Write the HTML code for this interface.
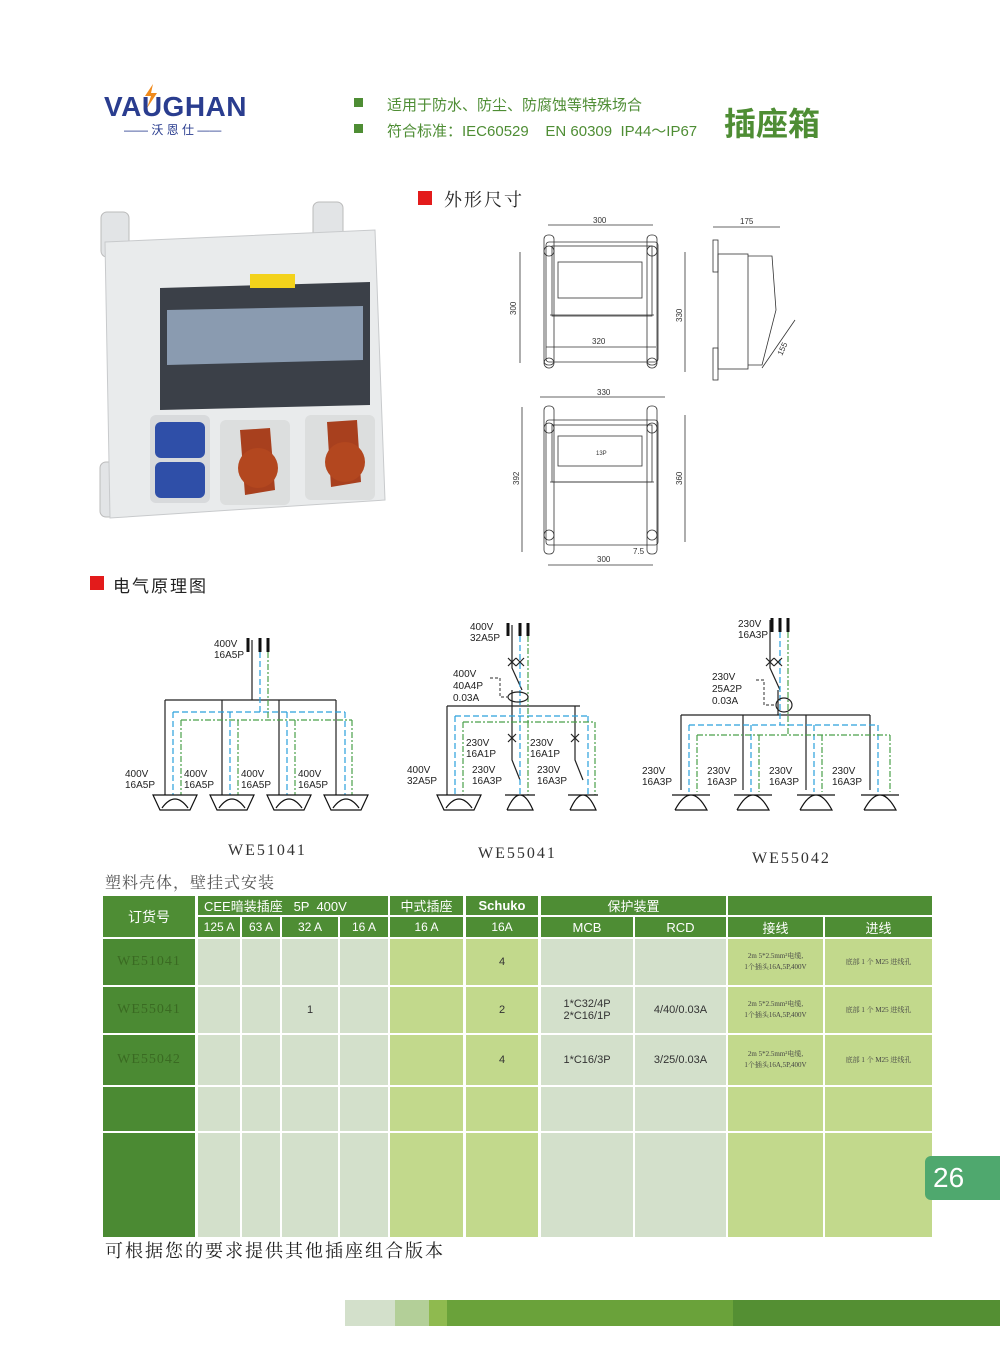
<!DOCTYPE html>
<html><head><meta charset="utf-8">
<style>
body{margin:0;background:#fff;}
#pg{position:relative;width:1000px;height:1363px;overflow:hidden;background:#fff;font-family:"Liberation Sans","Noto Sans CJK SC",sans-serif;}
.a{position:absolute;}
.c{position:absolute;display:flex;align-items:center;justify-content:center;text-align:center;box-sizing:border-box;}
.h{background:#4e8d34;color:#fff;font-size:13px;}
.g{background:#d3e0cb;}
.l{background:#c2d98c;}
.d{background:#4b8a33;color:#3a6a22;font-family:"Liberation Serif",serif;font-size:14px;letter-spacing:1px;}
.t{font-size:11px;color:#333;}
.s{font-size:7px;color:#444;line-height:11px;font-family:"Liberation Serif","Noto Serif CJK SC",serif;}
</style></head><body><div id="pg">

<!-- logo -->
<div class="a" style="left:104px;top:91px;font-size:28px;font-weight:bold;color:#2a3d8f;letter-spacing:0.5px;">VAUGHAN</div>
<svg class="a" style="left:141px;top:84px" width="20" height="24"><path d="M12 0 L4 12 L10 12 L6 24 L16 9 L10 9 Z" fill="#f08a1c"/></svg>
<div class="a" style="left:124px;top:121px;font-size:12px;color:#2a3d8f;">—— 沃 恩 仕 ——</div>

<div class="a" style="left:354px;top:98px;width:9px;height:9px;background:#4e8d34"></div>
<div class="a" style="left:354px;top:124px;width:9px;height:9px;background:#4e8d34"></div>
<div class="a" style="left:387px;top:94px;font-size:15px;color:#4e8d34;">适用于防水、防尘、防腐蚀等特殊场合</div>
<div class="a" style="left:387px;top:120px;font-size:15px;color:#4e8d34;white-space:pre">符合标准：IEC60529    EN 60309  IP44～IP67</div>
<div class="a" style="left:724px;top:99px;font-size:32px;font-weight:bold;color:#4e8d34;">插座箱</div>

<div class="a" style="left:418px;top:191px;width:14px;height:14px;background:#e31b1b"></div>
<div class="a" style="left:444px;top:186px;font-size:18px;color:#222;font-family:'Liberation Serif','Noto Serif CJK SC',serif;letter-spacing:2px;">外形尺寸</div>
<div class="a" style="left:90px;top:576px;width:14px;height:14px;background:#e31b1b"></div>
<div class="a" style="left:113px;top:572px;font-size:17px;color:#222;letter-spacing:2px;">电气原理图</div>

<!-- product photo -->
<svg class="a" style="left:95px;top:200px" width="300" height="325">
 <rect x="6" y="12" width="28" height="45" rx="6" fill="#e2e4e6" stroke="#bbb"/>
 <rect x="218" y="2" width="30" height="45" rx="6" fill="#e2e4e6" stroke="#bbb"/>
 <rect x="5" y="262" width="28" height="55" rx="6" fill="#e2e4e6" stroke="#bbb"/>
 <path d="M10 42 L280 30 L290 300 L15 318 Z" fill="#e9ebec" stroke="#c8cacc"/>
 <path d="M65 88 L275 82 L275 205 L65 210 Z" fill="#3b4048"/>
 <path d="M72 110 L268 106 L268 160 L72 165 Z" fill="#8a9bb0"/>
 <rect x="155" y="74" width="45" height="14" fill="#f3d21b"/>
 <rect x="55" y="215" width="60" height="88" rx="6" fill="#d8dadc"/>
 <rect x="60" y="222" width="50" height="36" rx="6" fill="#2f4fa8"/>
 <rect x="60" y="262" width="50" height="36" rx="6" fill="#2f4fa8"/>
 <rect x="125" y="220" width="70" height="85" rx="6" fill="#dcdede"/>
 <path d="M145 230 L175 228 L180 290 L150 295 Z" fill="#a8401e"/>
 <ellipse cx="163" cy="268" rx="20" ry="20" fill="#b3471f"/>
 <rect x="210" y="215" width="70" height="85" rx="6" fill="#dcdede"/>
 <path d="M232 222 L262 220 L266 282 L236 287 Z" fill="#a8401e"/>
 <ellipse cx="250" cy="262" rx="20" ry="20" fill="#b3471f"/>
</svg>

<!-- dimension drawings -->
<svg class="a" style="left:500px;top:210px" width="320" height="360" font-family="Liberation Sans" font-size="8" fill="none" stroke="#333" stroke-width="0.8">
 <g>
  <rect x="46" y="32" width="112" height="120" rx="3"/>
  <rect x="52" y="36" width="100" height="70"/>
  <rect x="58" y="52" width="84" height="36"/>
  <line x1="50" y1="105" x2="154" y2="105"/>
  <line x1="46" y1="137" x2="156" y2="137"/>
  <circle cx="49" cy="41" r="5"/><circle cx="152" cy="41" r="5"/><circle cx="49" cy="153" r="5"/><circle cx="152" cy="153" r="5"/>
  <rect x="44" y="25" width="10" height="130" rx="4"/><rect x="147" y="25" width="10" height="130" rx="4"/>
  <line x1="48" y1="15" x2="153" y2="15"/><line x1="20" y1="42" x2="20" y2="153"/><line x1="185" y1="42" x2="185" y2="162"/>
  <text x="93" y="13" fill="#333" stroke="none">300</text><text x="92" y="134" fill="#333" stroke="none">320</text>
  <text x="16" y="105" fill="#333" stroke="none" transform="rotate(-90 16 105)">300</text>
  <text x="182" y="112" fill="#333" stroke="none" transform="rotate(-90 182 112)">330</text>
 </g>
 <g>
  <rect x="213" y="30" width="5" height="32"/><rect x="213" y="138" width="5" height="32"/>
  <rect x="218" y="44" width="30" height="115"/><path d="M248 46 L272 46 L276 100 L262 155 L248 155"/>
  <line x1="213" y1="17" x2="280" y2="17"/><line x1="262" y1="158" x2="295" y2="110"/>
  <text x="240" y="14" fill="#333" stroke="none">175</text>
  <text x="282" y="146" fill="#333" stroke="none" transform="rotate(-65 282 146)">155</text>
 </g>
 <g>
  <rect x="46" y="210" width="112" height="125" rx="3"/>
  <rect x="52" y="215" width="100" height="57"/>
  <rect x="58" y="226" width="84" height="30"/>
  <line x1="50" y1="272" x2="154" y2="272"/>
  <circle cx="49" cy="218" r="5"/><circle cx="152" cy="218" r="5"/><circle cx="49" cy="325" r="5"/><circle cx="152" cy="325" r="5"/>
  <rect x="44" y="196" width="10" height="148" rx="4"/><rect x="147" y="196" width="10" height="148" rx="4"/>
  <line x1="40" y1="187" x2="165" y2="187"/><line x1="22" y1="197" x2="22" y2="342"/><line x1="185" y1="205" x2="185" y2="332"/><line x1="48" y1="355" x2="153" y2="355"/>
  <text x="97" y="185" fill="#333" stroke="none">330</text><text x="97" y="352" fill="#333" stroke="none">300</text>
  <text x="133" y="344" fill="#333" stroke="none">7.5</text><text x="96" y="245" fill="#333" stroke="none" font-size="6">13P</text>
  <text x="19" y="275" fill="#333" stroke="none" transform="rotate(-90 19 275)">392</text>
  <text x="182" y="275" fill="#333" stroke="none" transform="rotate(-90 182 275)">360</text>
 </g>
</svg>

<!-- schematics -->
<svg class="a" style="left:0;top:600px" width="1000" height="220" font-family="Liberation Sans" font-size="10" fill="none" stroke-width="1.2">
 <g transform="translate(0,-600)">
 <path d="M252 640V700M165 700H336M165 700V795M222 700V795M279 700V795M336 700V795" stroke="#222"/>
 <path d="M248 638V652M260 638V652M268 638V652" stroke="#111" stroke-width="3"/>
 <path d="M260 652V712M173 712H345M173 712V795M230 712V795M287 712V795M345 712V795" stroke="#2aa0dc" stroke-dasharray="6 3"/>
 <path d="M268 652V720M181 720H352M181 720V795M238 720V795M295 720V795M352 720V795" stroke="#4aa04a" stroke-dasharray="6 2 2 2"/>
 <g stroke="#111" fill="none">
  <path d="M153 795H197L190 810H160Z M162 808Q175 790 188 808"/>
  <path d="M210 795H254L247 810H217Z M219 808Q232 790 245 808"/>
  <path d="M267 795H311L304 810H274Z M276 808Q289 790 302 808"/>
  <path d="M324 795H368L361 810H331Z M333 808Q346 790 359 808"/>
 </g>
 <g fill="#222" stroke="none">
  <text x="214" y="647">400V</text><text x="214" y="658">16A5P</text>
  <text x="125" y="777">400V</text><text x="125" y="788">16A5P</text>
  <text x="184" y="777">400V</text><text x="184" y="788">16A5P</text>
  <text x="241" y="777">400V</text><text x="241" y="788">16A5P</text>
  <text x="298" y="777">400V</text><text x="298" y="788">16A5P</text>
 </g>
 <path d="M512 625V668L522 690M512 690V706M447 706H580M447 706V795M512 706V760L520 780M575 706V760L583 780" stroke="#222"/>
 <path d="M508 623V636M520 623V636M528 623V636" stroke="#111" stroke-width="3"/>
 <path d="M520 636V716M455 716H588M455 716V795M520 716V795M588 716V795" stroke="#2aa0dc" stroke-dasharray="6 3"/>
 <path d="M528 636V722M463 722H595M463 722V795M528 722V795M595 722V795" stroke="#4aa04a" stroke-dasharray="6 2 2 2"/>
 <ellipse cx="518" cy="697" rx="10" ry="5" stroke="#222"/>
 <path d="M490 678H500V697H508" stroke="#555" stroke-dasharray="3 2"/>
 <path d="M508 658L516 666M516 658L508 666M516 658L524 666M524 658L516 666M508 734L516 742M516 734L508 742M571 734L579 742M579 734L571 742" stroke="#222"/>
 <g stroke="#111">
  <path d="M437 795H481L474 810H444Z M446 808Q459 790 472 808"/>
  <path d="M505 795H535M507 810Q520 780 533 810H507"/>
  <path d="M568 795H598M570 810Q583 780 596 810H570"/>
 </g>
 <g fill="#222" stroke="none">
  <text x="470" y="630">400V</text><text x="470" y="641">32A5P</text>
  <text x="453" y="677">400V</text><text x="453" y="689">40A4P</text><text x="453" y="701">0.03A</text>
  <text x="466" y="746">230V</text><text x="466" y="757">16A1P</text>
  <text x="530" y="746">230V</text><text x="530" y="757">16A1P</text>
  <text x="407" y="773">400V</text><text x="407" y="784">32A5P</text>
  <text x="472" y="773">230V</text><text x="472" y="784">16A3P</text>
  <text x="537" y="773">230V</text><text x="537" y="784">16A3P</text>
 </g>
 <path d="M770 620V668L780 690M778 690V715M681 715H870M681 715V790M743 715V790M806 715V790M870 715V790" stroke="#222"/>
 <path d="M772 618V632M780 618V632M788 618V632" stroke="#111" stroke-width="3"/>
 <path d="M780 632V725M689 725H878M689 725V792M751 725V792M814 725V792M878 725V792" stroke="#2aa0dc" stroke-dasharray="6 3"/>
 <path d="M788 632V735M697 735H890M697 735V792M759 735V792M822 735V792M890 735V792" stroke="#4aa04a" stroke-dasharray="6 2 2 2"/>
 <ellipse cx="784" cy="705" rx="8" ry="7" stroke="#222"/>
 <path d="M756 680H764V705H776" stroke="#555" stroke-dasharray="3 2"/>
 <path d="M766 658L774 666M774 658L766 666M774 658L782 666M782 658L774 666" stroke="#222"/>
 <g stroke="#111">
  <path d="M672 795H710M675 810Q691 780 707 810H675"/>
  <path d="M734 795H772M737 810Q753 780 769 810H737"/>
  <path d="M797 795H835M800 810Q816 780 832 810H800"/>
  <path d="M861 795H899M864 810Q880 780 896 810H864"/>
 </g>
 <g fill="#222" stroke="none">
  <text x="738" y="627">230V</text><text x="738" y="638">16A3P</text>
  <text x="712" y="680">230V</text><text x="712" y="692">25A2P</text><text x="712" y="704">0.03A</text>
  <text x="642" y="774">230V</text><text x="642" y="785">16A3P</text>
  <text x="707" y="774">230V</text><text x="707" y="785">16A3P</text>
  <text x="769" y="774">230V</text><text x="769" y="785">16A3P</text>
  <text x="832" y="774">230V</text><text x="832" y="785">16A3P</text>
 </g>
 </g>
</svg>

<div class="a" style="left:228px;top:842px;font-size:16px;font-family:'Liberation Serif',serif;color:#333;letter-spacing:2px">WE51041</div>
<div class="a" style="left:478px;top:845px;font-size:16px;font-family:'Liberation Serif',serif;color:#333;letter-spacing:2px">WE55041</div>
<div class="a" style="left:752px;top:850px;font-size:16px;font-family:'Liberation Serif',serif;color:#333;letter-spacing:2px">WE55042</div>
<div class="a" style="left:105px;top:870px;font-size:16px;font-family:'Liberation Serif','Noto Serif CJK SC',serif;color:#555;letter-spacing:1px">塑料壳体，壁挂式安装</div>

<!-- table -->
<div class="c h" style="left:103px;top:896px;width:92px;height:41px;font-size:14px">订货号</div>
<div class="c h" style="left:198px;top:896px;width:190px;height:19px;justify-content:flex-start;padding-left:6px;white-space:pre">CEE暗装插座   5P  400V</div>
<div class="c h" style="left:390px;top:896px;width:73px;height:19px">中式插座</div>
<div class="c h" style="left:466px;top:896px;width:72px;height:19px;font-weight:bold">Schuko</div>
<div class="c h" style="left:541px;top:896px;width:185px;height:19px">保护装置</div>
<div class="c h" style="left:728px;top:896px;width:204px;height:19px"></div>
<div class="c h" style="left:198px;top:917px;width:42px;height:20px;font-size:12px">125 A</div>
<div class="c h" style="left:242px;top:917px;width:38px;height:20px;font-size:12px">63 A</div>
<div class="c h" style="left:282px;top:917px;width:56px;height:20px;font-size:12px">32 A</div>
<div class="c h" style="left:340px;top:917px;width:48px;height:20px;font-size:12px">16 A</div>
<div class="c h" style="left:390px;top:917px;width:73px;height:20px;font-size:12px">16 A</div>
<div class="c h" style="left:466px;top:917px;width:72px;height:20px;font-size:12px">16A</div>
<div class="c h" style="left:541px;top:917px;width:92px;height:20px">MCB</div>
<div class="c h" style="left:635px;top:917px;width:91px;height:20px">RCD</div>
<div class="c h" style="left:728px;top:917px;width:95px;height:20px">接线</div>
<div class="c h" style="left:825px;top:917px;width:107px;height:20px">进线</div>

<div id="rows"></div>
<script>
var cols=[[198,42,'g'],[242,38,'g'],[282,56,'g'],[340,48,'g'],[390,73,'l'],[466,72,'l'],[541,92,'g'],[635,91,'g'],[728,95,'l'],[825,107,'l']];
var rows=[[939,46,'WE51041',['','','','','','4','','',1,1]],[987,46,'WE55041',['','','1','','','2','1*C32/4P<br>2*C16/1P','4/40/0.03A',1,1]],[1035,50,'WE55042',['','','','','','4','1*C16/3P','3/25/0.03A',1,1]],[1087,44,'',['','','','','','','','','','']],[1133,104,'',['','','','','','','','','','']]];
var h='';
rows.forEach(function(r){
 h+='<div class="c d" style="left:103px;top:'+r[0]+'px;width:92px;height:'+r[1]+'px">'+r[2]+'</div>';
 cols.forEach(function(c,i){
  var v=r[3][i];
  if(v===1){v = i==8?'2m 5*2.5mm²电缆,<br>1个插头16A,5P,400V':'底部 1 个 M25 进线孔';}
  var cls = (i>=8 && v)?'s':'t';
  h+='<div class="c '+c[2]+' '+cls+'" style="left:'+c[0]+'px;top:'+r[0]+'px;width:'+c[1]+'px;height:'+r[1]+'px">'+v+'</div>';
 });
});
document.getElementById('rows').innerHTML=h;
</script>

<div class="a" style="left:105px;top:1237px;font-size:18px;font-family:'Liberation Serif','Noto Serif CJK SC',serif;color:#222;letter-spacing:2px">可根据您的要求提供其他插座组合版本</div>

<div class="c" style="left:925px;top:1156px;width:75px;height:44px;background:#4fa86e;border-radius:6px 0 0 6px;color:#fff;font-size:28px;justify-content:flex-start;padding-left:8px">26</div>

<div class="a" style="left:345px;top:1300px;width:50px;height:26px;background:#d3e0cb"></div>
<div class="a" style="left:395px;top:1300px;width:34px;height:26px;background:#b3cf98"></div>
<div class="a" style="left:429px;top:1300px;width:18px;height:26px;background:#8fba4f"></div>
<div class="a" style="left:447px;top:1300px;width:286px;height:26px;background:#6aa23a"></div>
<div class="a" style="left:733px;top:1300px;width:267px;height:26px;background:#548f33"></div>
</div></body></html>
